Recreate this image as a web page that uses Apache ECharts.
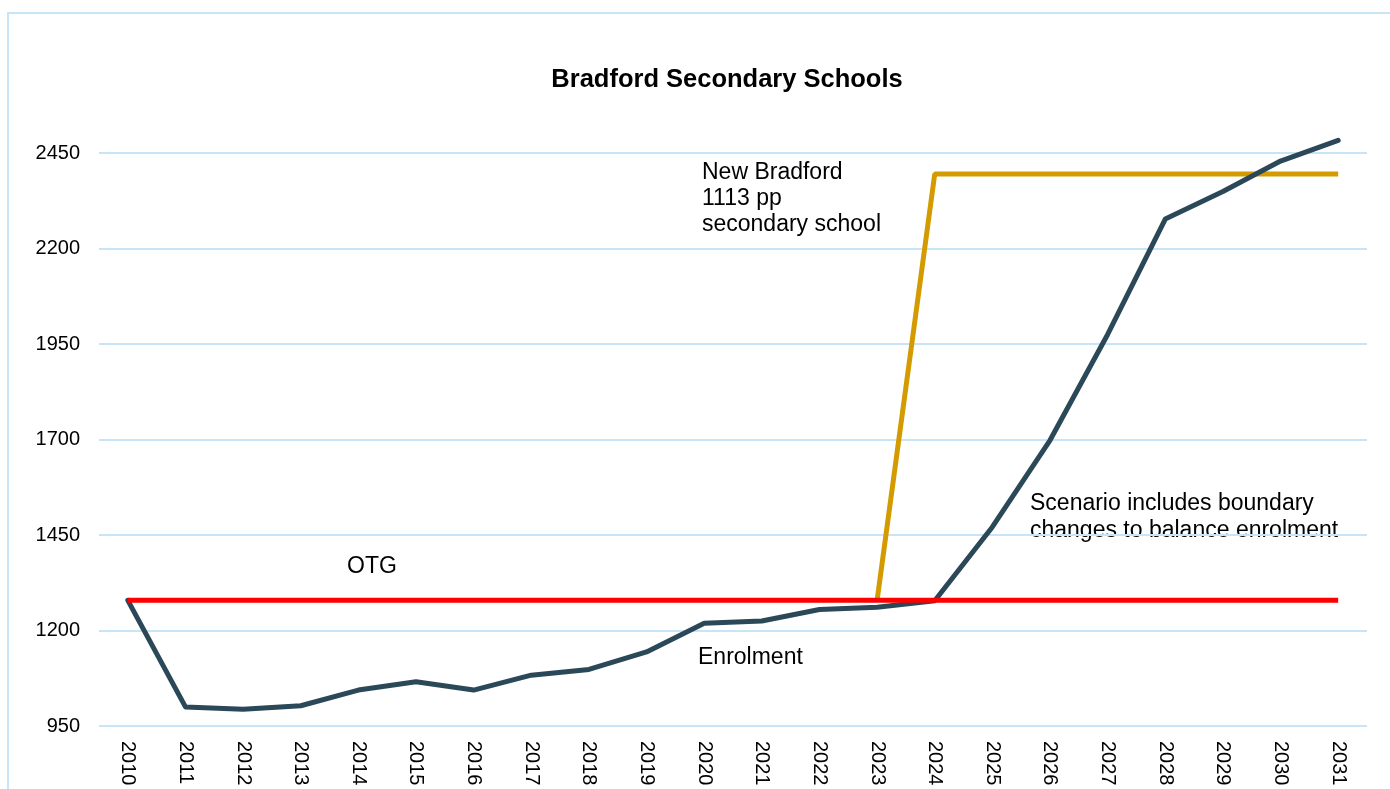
<!DOCTYPE html>
<html>
<head>
<meta charset="utf-8">
<script src="https://cdn.jsdelivr.net/npm/echarts@6/dist/echarts.min.js"></script>
<style>
  html, body { margin: 0; padding: 0; background: #fff; }
  #chart { width: 1390px; height: 789px; }
</style>
</head>
<body>
<div id="chart"></div>
<script>
var years = ['2010', '2011', '2012', '2013', '2014', '2015', '2016', '2017', '2018', '2019', '2020',
             '2021', '2022', '2023', '2024', '2025', '2026', '2027', '2028', '2029', '2030', '2031'];
var enrolment = [1279, 1000, 994, 1003, 1044, 1066, 1044, 1083, 1098, 1144, 1219,
                 1225, 1255, 1261, 1278, 1471, 1698, 1975, 2277, 2349, 2429, 2483];
var otg = [1279, 1279, 1279, 1279, 1279, 1279, 1279, 1279, 1279, 1279, 1279,
           1279, 1279, 1279, 1279, 1279, 1279, 1279, 1279, 1279, 1279, 1279];
var newSchool = [null, null, null, null, null, null, null, null, null, null, null,
                 null, null, 1279, 2395, 2395, 2395, 2395, 2395, 2395, 2395, 2395];

var gridColor = '#c8e4f7';
var font = 'Liberation Sans, Arial, sans-serif';

var myChart = echarts.init(document.getElementById('chart'));
var option = {
    backgroundColor: '#fff',
    animation: false,
    title: {
        text: 'Bradford Secondary Schools',
        left: 722,
        top: 62,
        textAlign: 'center',
        textStyle: { fontFamily: font, fontSize: 25.5, fontWeight: 'bold', color: '#000' }
    },
    grid: { left: 99, right: 23, top: 153, bottom: 63 },
    xAxis: {
        type: 'category',
        data: years,
        boundaryGap: true,
        axisLine: { show: false },
        axisTick: { show: false },
        axisLabel: { rotate: -90, margin: 15, fontFamily: font, fontSize: 20, color: '#000' }
    },
    yAxis: {
        type: 'value',
        min: 950,
        max: 2450,
        interval: 250,
        axisLine: { show: false },
        axisTick: { show: false },
        axisLabel: {
            margin: 19, fontFamily: font, fontSize: 20, color: '#000',
            formatter: function (v) { return String(v); }
        },
        splitLine: { lineStyle: { color: gridColor, width: 2 } }
    },
    series: [
        {
            name: 'New Bradford',
            type: 'line',
            data: newSchool,
            clip: false,
            symbol: 'none',
            lineStyle: { color: '#d49b00', width: 5 }
        },
        {
            name: 'Enrolment',
            type: 'line',
            data: enrolment,
            clip: false,
            symbol: 'none',
            lineStyle: { color: '#2b4858', width: 5, cap: 'round', join: 'round' }
        },
        {
            name: 'OTG',
            type: 'line',
            data: otg,
            clip: false,
            symbol: 'none',
            lineStyle: { color: '#ff0000', width: 5 }
        }
    ],
    graphic: [
        {
            type: 'rect',
            shape: { x: 8, y: 13, width: 1400, height: 800 },
            style: { fill: 'none', stroke: gridColor, lineWidth: 2 },
            silent: true
        },
        {
            type: 'text', left: 702, top: 160,
            style: { text: 'New Bradford\n1113 pp\nsecondary school', font: '23px ' + font, lineHeight: 26, fill: '#000' }
        },
        {
            type: 'text', left: 347, top: 555,
            style: { text: 'OTG', font: '23px ' + font, fill: '#000' }
        },
        {
            type: 'text', left: 698, top: 646,
            style: { text: 'Enrolment', font: '23px ' + font, fill: '#000' }
        },
        {
            type: 'text', left: 1030, top: 490,
            style: { text: 'Scenario includes boundary\nchanges to balance enrolment', font: '23px ' + font, lineHeight: 27, fill: '#000' }
        }
    ]
};
myChart.setOption(option, true);
</script>
</body>
</html>
